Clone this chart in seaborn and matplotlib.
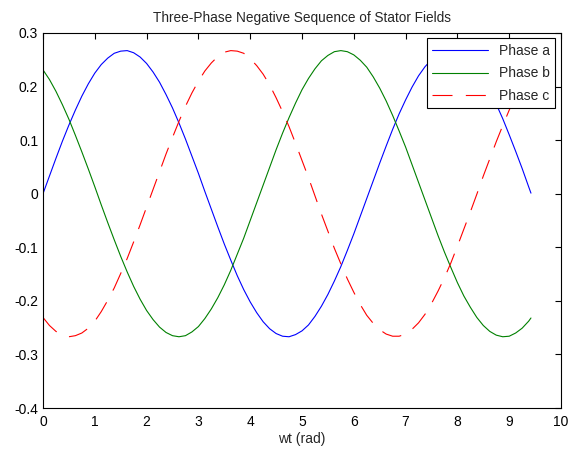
import pandas as pd
import numpy as np
from matplotlib import pyplot as plt
from matplotlib.ticker import FuncFormatter
import seaborn as sns

# values (wt in rad)
wt = [0, 0.125, 0.25, 0.375, 0.5, 0.625, 0.75, 0.875, 1.0, 1.125,
      1.25, 1.375, 1.5, 1.625, 1.75, 1.875, 2.0, 2.125, 2.25, 2.375,
      2.5, 2.625, 2.75, 2.875, 3.0, 3.125, 3.25, 3.375, 3.5, 3.625,
      3.75, 3.875, 4.0, 4.125, 4.25, 4.375, 4.5, 4.625, 4.75, 4.875,
      5.0, 5.125, 5.25, 5.375, 5.5, 5.625, 5.75, 5.875, 6.0, 6.125,
      6.25, 6.375, 6.5, 6.625, 6.75, 6.875, 7.0, 7.125, 7.25, 7.375,
      7.5, 7.625, 7.75, 7.875, 8.0, 8.125, 8.25, 8.375, 8.5, 8.625,
      8.75, 8.875, 9.0, 9.125, 9.25, 9.375, 9.42]
phase_a = [0.000, 0.033, 0.066, 0.098, 0.128, 0.156, 0.182, 0.205, 0.225, 0.241,
           0.253, 0.262, 0.266, 0.267, 0.263, 0.255, 0.243, 0.227, 0.208, 0.185,
           0.160, 0.132, 0.102, 0.070, 0.038, 0.004, -0.029, -0.062, -0.094, -0.124,
           -0.153, -0.179, -0.202, -0.222, -0.239, -0.252, -0.261, -0.266, -0.267, -0.263,
           -0.256, -0.245, -0.229, -0.210, -0.188, -0.163, -0.136, -0.106, -0.075, -0.042,
           -0.009, 0.024, 0.057, 0.089, 0.120, 0.149, 0.175, 0.199, 0.220, 0.237,
           0.250, 0.260, 0.266, 0.267, 0.264, 0.257, 0.246, 0.232, 0.213, 0.192,
           0.167, 0.140, 0.110, 0.079, 0.047, 0.013, 0.001]
phase_b = [0.231, 0.213, 0.191, 0.166, 0.139, 0.109, 0.078, 0.046, 0.013, -0.021,
           -0.054, -0.086, -0.117, -0.146, -0.173, -0.197, -0.218, -0.235, -0.249, -0.259,
           -0.265, -0.267, -0.265, -0.258, -0.248, -0.233, -0.215, -0.194, -0.170, -0.143,
           -0.113, -0.083, -0.050, -0.017, 0.016, 0.049, 0.082, 0.113, 0.142, 0.169,
           0.194, 0.215, 0.233, 0.248, 0.258, 0.265, 0.267, 0.265, 0.259, 0.249,
           0.236, 0.218, 0.197, 0.173, 0.146, 0.117, 0.087, 0.054, 0.021, -0.012,
           -0.045, -0.078, -0.109, -0.138, -0.166, -0.191, -0.212, -0.231, -0.246, -0.257,
           -0.264, -0.267, -0.266, -0.260, -0.251, -0.238, -0.232]
phase_c = [-0.231, -0.246, -0.257, -0.264, -0.267, -0.265, -0.260, -0.251, -0.238, -0.220,
           -0.199, -0.176, -0.149, -0.121, -0.090, -0.058, -0.025, 0.008, 0.041, 0.074,
           0.105, 0.135, 0.163, 0.188, 0.210, 0.229, 0.244, 0.256, 0.264, 0.267,
           0.266, 0.262, 0.252, 0.239, 0.223, 0.203, 0.179, 0.153, 0.125, 0.094,
           0.062, 0.030, -0.004, -0.038, -0.070, -0.102, -0.131, -0.159, -0.184, -0.207,
           -0.227, -0.242, -0.254, -0.262, -0.266, -0.266, -0.262, -0.253, -0.241, -0.225,
           -0.205, -0.182, -0.157, -0.129, -0.098, -0.066, -0.034, -0.001, 0.033, 0.065,
           0.097, 0.127, 0.156, 0.181, 0.204, 0.225, 0.231]

series = ['Phase a', 'Phase b', 'Phase c']
colors = ['#0000ff', '#008000', '#ff0000']

df = pd.DataFrame({'wt': wt * 3,
                   'value': phase_a + phase_b + phase_c,
                   'phase': np.repeat(series, len(wt))})

sns.set_style("white")
plt.rcParams['font.family'] = ['Liberation Sans', 'DejaVu Sans']

fig = plt.figure(figsize=(5.71, 4.51), dpi=100)
ax = fig.add_axes([0.0753, 0.0953, 0.9072, 0.8317])

sns.lineplot(data=df, x='wt', y='value', hue='phase', style='phase',
             palette=dict(zip(series, colors)),
             dashes={'Phase a': '', 'Phase b': '', 'Phase c': (18, 12)},
             linewidth=0.8, ax=ax)

ax.set_xlim(0, 10)
ax.set_ylim(-0.4, 0.3)
ax.set_xticks(range(0, 11))
ax.set_yticks(np.arange(-0.4, 0.31, 0.1))
ax.yaxis.set_major_formatter(FuncFormatter(lambda v, p: '%g' % (round(v, 2) + 0.0)))
ax.tick_params(direction='in', top=True, right=True, length=4, width=0.8,
               labelsize=10, colors='black')
ax.tick_params(axis='x', pad=5)
for s in ax.spines.values():
    s.set_color('black')
    s.set_linewidth(0.8)

ax.set_xlabel('wt (rad)', fontsize=10, labelpad=2)
ax.set_ylabel('')
ax.set_title('Three-Phase Negative Sequence of Stator Fields', fontsize=9.8, pad=8)

leg = ax.legend(loc='upper right', fontsize=10, frameon=True, fancybox=False,
                edgecolor='black', framealpha=1, borderaxespad=0.4,
                handlelength=4.0, labelspacing=0.6)
leg.get_frame().set_linewidth(0.8)

plt.savefig('out.png', dpi=100)
